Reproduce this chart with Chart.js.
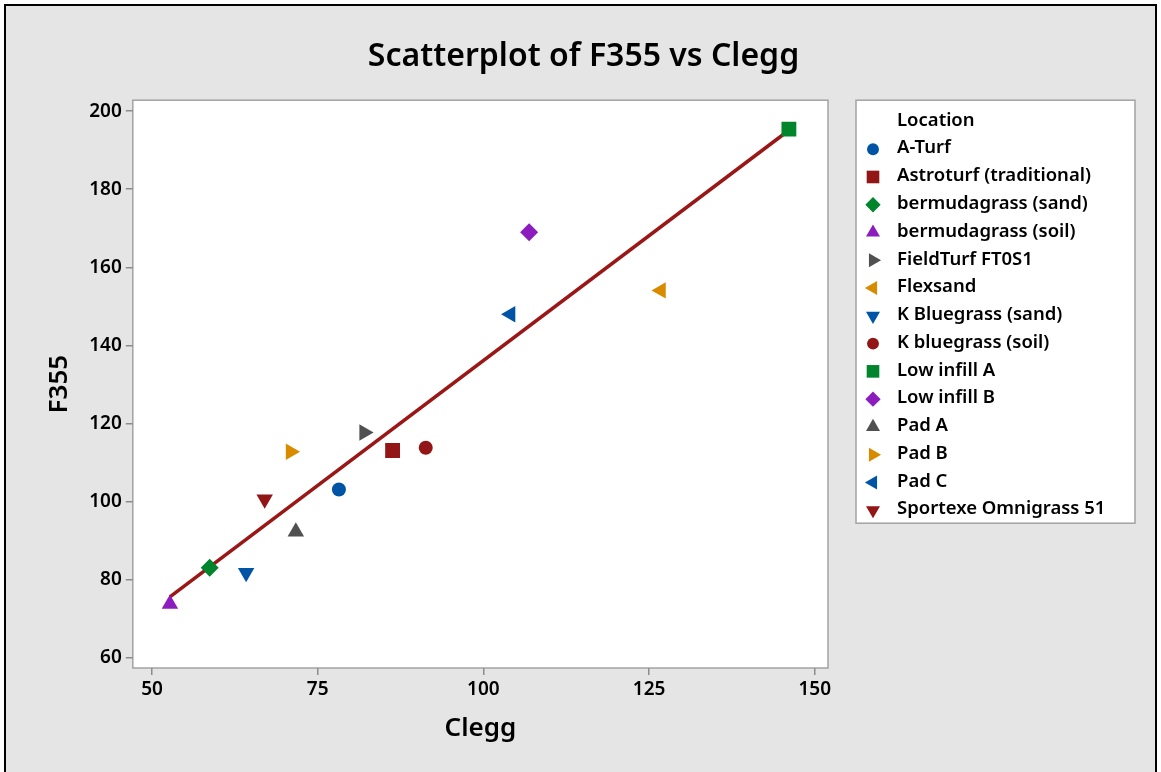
<!DOCTYPE html>
<html>
<head>
<meta charset="utf-8">
<script src="https://cdn.jsdelivr.net/npm/chart.js@4/dist/chart.umd.min.js"></script>
<style>
  html, body { margin: 0; padding: 0; background: #fff; }
  #frame { position: absolute; left: 4px; top: 4px; width: 1149px; height: 800px; border: 2px solid #000; background: #e5e5e5; }
  #wrap { position: absolute; left: 0; top: 0; width: 1161px; height: 772px; }
</style>
</head>
<body>
<div id="frame"></div>
<div id="wrap"><canvas id="myChart" width="1161" height="772"></canvas></div>
<script>
const locations = ['A-Turf', 'Astroturf (traditional)', 'bermudagrass (sand)', 'bermudagrass (soil)',
  'FieldTurf FT0S1', 'Flexsand', 'K Bluegrass (sand)', 'K bluegrass (soil)', 'Low infill A',
  'Low infill B', 'Pad A', 'Pad B', 'Pad C', 'Sportexe Omnigrass 51'];
const cleggVals = [78.2, 86.3, 58.7, 52.7, 82.0, 126.8, 64.2, 91.3, 146.1, 106.9, 71.7, 70.9, 104.1, 67.0];
const f355Vals = [103.1, 113.1, 83.1, 73.8, 117.7, 154.1, 81.8, 113.8, 195.4, 169.0, 92.3, 112.8, 148.0, 100.6];
const markerStyles = ['circle', 'rect', 'rectRot', 'triangle', 'triangle', 'triangle', 'triangle',
  'circle', 'rect', 'rectRot', 'triangle', 'triangle', 'triangle', 'triangle'];
const markerRotation = [0, 0, 0, 0, 90, 270, 180, 0, 0, 0, 0, 90, 270, 180];
const markerColors = ['#0054a6', '#921616', '#00852c', '#8c1cbd', '#505050', '#d98b00', '#0054a6',
  '#921616', '#00852c', '#8c1cbd', '#505050', '#d98b00', '#0054a6', '#921616'];
const fitClegg = [52.7, 146.1];
const fitF355 = [75.6, 195.1];
const xTicks = [50, 75, 100, 125, 150];
const yTicks = [60, 80, 100, 120, 140, 160, 180, 200];
const chartTitle = 'Scatterplot of F355 vs Clegg';

const FONT = '"Noto Sans", "Open Sans", sans-serif';
const sizeFor = { circle: 7, rect: 10.5, rectRot: 9, triangle: 9.5 };

// scatter datasets, one per location
const datasets = locations.map((name, i) => ({
  label: name,
  data: [{ x: cleggVals[i], y: f355Vals[i] }],
  pointStyle: markerStyles[i],
  rotation: markerRotation[i],
  pointRadius: sizeFor[markerStyles[i]],
  backgroundColor: markerColors[i],
  borderColor: markerColors[i],
  borderWidth: 0,
  order: 0
}));

datasets.push({
  type: 'line',
  label: 'fit',
  data: fitClegg.map((x, i) => ({ x: x, y: fitF355[i] })),
  borderColor: '#9a1717',
  borderWidth: 3.5,
  pointRadius: 0,
  fill: false,
  order: 1
});

function drawMarker(c, style, rot, r, x, y) {
  const rad = rot * Math.PI / 180;
  c.beginPath();
  if (style === 'circle') {
    c.arc(x, y, r, 0, Math.PI * 2);
  } else if (style === 'rect') {
    const s = Math.SQRT1_2 * r;
    c.rect(x - s, y - s, 2 * s, 2 * s);
  } else if (style === 'rectRot') {
    c.moveTo(x, y - r); c.lineTo(x + r, y); c.lineTo(x, y + r); c.lineTo(x - r, y);
  } else {
    let a = rad;
    c.moveTo(x + Math.sin(a) * r, y - Math.cos(a) * r);
    a += 2 * Math.PI / 3;
    c.lineTo(x + Math.sin(a) * r, y - Math.cos(a) * r);
    a += 2 * Math.PI / 3;
    c.lineTo(x + Math.sin(a) * r, y - Math.cos(a) * r);
  }
  c.closePath();
  c.fill();
}

const plotBox = {
  id: 'plotBox',
  beforeDraw(chart) {
    const a = chart.chartArea, c = chart.ctx;
    c.save();
    c.fillStyle = '#fff';
    c.fillRect(a.left, a.top, a.right - a.left, a.bottom - a.top);
    c.strokeStyle = '#a3a3a3';
    c.lineWidth = 1.5;
    c.strokeRect(a.left, a.top, a.right - a.left, a.bottom - a.top);
    c.restore();
  }
};

// title is centred over the whole page, legend sits right of the plot
const overlay = {
  id: 'overlay',
  afterDraw(chart) {
    const a = chart.chartArea, c = chart.ctx;
    c.save();
    const tb = chart.titleBlock;
    c.fillStyle = '#000';
    c.font = '600 32px ' + FONT;
    c.textAlign = 'center';
    c.textBaseline = 'middle';
    c.fillText(chartTitle, chart.width / 2 + 3, (tb.top + tb.bottom) / 2 + 7);

    const left = a.right + 28, top = a.top, w = 279, h = 423;
    c.textAlign = 'left';
    c.fillStyle = '#fff';
    c.fillRect(left, top, w, h);
    c.strokeStyle = '#a3a3a3';
    c.lineWidth = 1.5;
    c.strokeRect(left, top, w, h);
    c.fillStyle = '#000';
    c.font = '600 18.5px ' + FONT;
    c.fillText('Location', left + 41, top + 21);
    locations.forEach((name, i) => {
      const y = top + 48 + i * 27.77;
      c.fillStyle = markerColors[i];
      drawMarker(c, markerStyles[i], markerRotation[i], sizeFor[markerStyles[i]] * 0.85, left + 17, y + 1);
      c.fillStyle = '#000';
      c.fillText(name, left + 41, y);
    });
    c.restore();
  }
};

new Chart(document.getElementById('myChart'), {
  type: 'scatter',
  data: { datasets: datasets },
  options: {
    responsive: false,
    animation: false,
    devicePixelRatio: 1,
    layout: { padding: { left: 42, right: 333, top: 0, bottom: 20 } },
    plugins: {
      legend: { display: false },
      tooltip: { enabled: false },
      title: {
        display: true,
        text: chartTitle,
        color: 'rgba(0,0,0,0)',
        font: { family: FONT, size: 31, weight: '600' },
        padding: { top: 38, bottom: 25 }
      }
    },
    scales: {
      x: {
        type: 'linear',
        min: 47.1,
        max: 152,
        afterBuildTicks: s => { s.ticks = xTicks.map(v => ({ value: v })); },
        border: { display: false },
        grid: { drawOnChartArea: false, drawTicks: true, tickLength: 7, color: '#8c8c8c', lineWidth: 1.5 },
        ticks: { color: '#000', padding: 3, font: { family: FONT, size: 19, weight: '600' } },
        title: { display: true, text: 'Clegg', color: '#000', padding: { top: 9, bottom: 8 },
          font: { family: FONT, size: 26, weight: '600' } }
      },
      y: {
        type: 'linear',
        min: 57.4,
        max: 202.8,
        afterBuildTicks: s => { s.ticks = yTicks.map(v => ({ value: v })); },
        border: { display: false },
        grid: { drawOnChartArea: false, drawTicks: true, tickLength: 7, color: '#8c8c8c', lineWidth: 1.5 },
        ticks: { color: '#000', padding: 4, font: { family: FONT, size: 19, weight: '600' } },
        title: { display: true, text: 'F355', color: '#000', padding: { top: 2, bottom: 10 },
          font: { family: FONT, size: 26, weight: '600' } }
      }
    }
  },
  plugins: [plotBox, overlay]
});
</script>
</body>
</html>
